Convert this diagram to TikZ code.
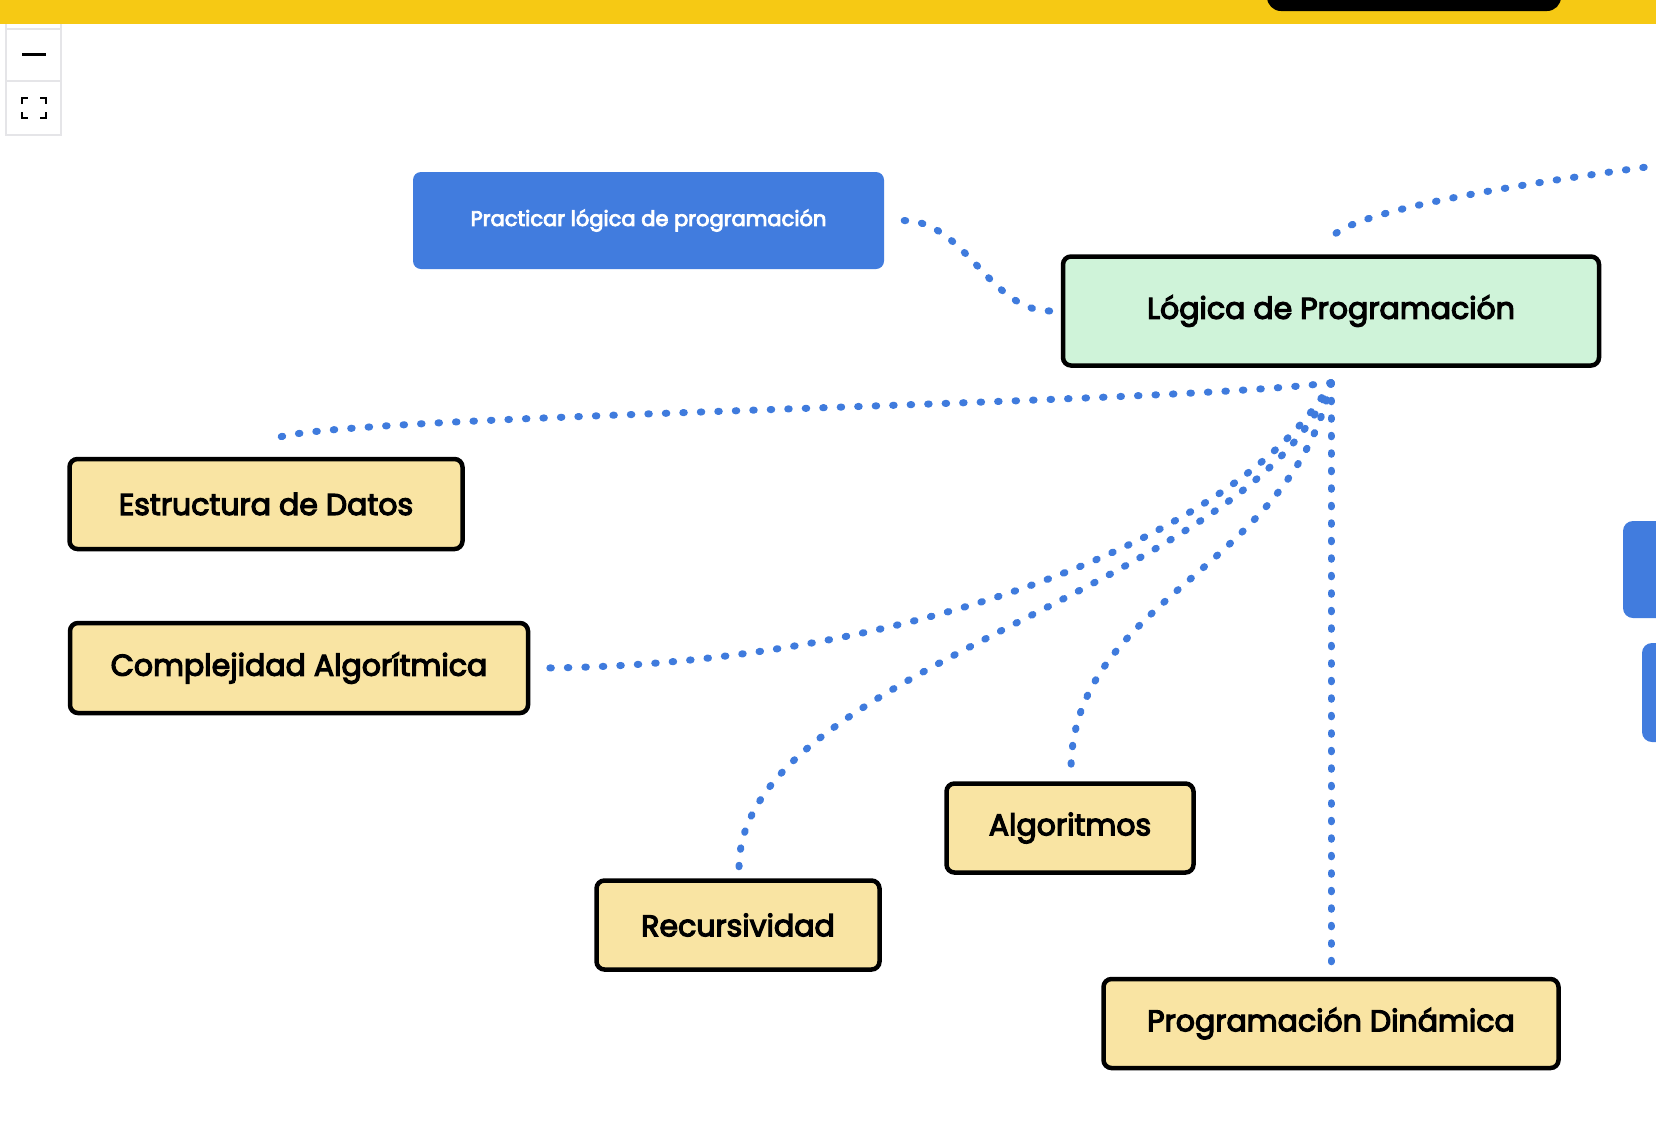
\documentclass[tikz,border=0pt]{standalone}
\usepackage{fontspec}
\setmainfont{Poppins}
\newfontfamily\labelfont{Poppins}[BoldFont=Poppins, BoldFeatures={FakeBold=4}]
\usetikzlibrary{calc}
\definecolor{banner}{RGB}{246,201,20}
\definecolor{linkblue}{RGB}{63,123,221}
\definecolor{boxblue}{RGB}{65,124,222}
\definecolor{topicfill}{RGB}{249,228,163}
\definecolor{rootfill}{RGB}{207,243,217}
\definecolor{panelgray}{RGB}{229,229,232}
\tikzset{
  topic/.style={draw=black, line width=4.5pt, rounded corners=8pt, fill=topicfill,
    inner sep=0pt, align=center, font=\labelfont\fontsize{30}{34}\selectfont\bfseries},
  rootbox/.style={topic, fill=rootfill},
  actionbox/.style={fill=boxblue, rounded corners=8pt, inner sep=0pt, text=white,
    align=center, font=\labelfont\fontsize{21}{25}\selectfont\bfseries},
  link/.style={draw=linkblue, line width=7pt, line cap=round, dash pattern=on 1.5pt off 16pt},
}
\begin{document}
\begin{tikzpicture}[x=1pt, y=-1pt]
\useasboundingbox (0,0) rectangle (1656,1144);
\fill[white] (0,0) rectangle (1656,1144);
% control panel
\draw[panelgray, fill=white, line width=1.5pt] (6,20) rectangle (61,135);
\draw[panelgray, line width=1.5pt] (6,29) -- (61,29);
\draw[panelgray, line width=1.5pt] (6,81) -- (61,81);
\draw[black, line width=3pt] (22,54) -- (46,54);
\draw[black, line width=2.5pt] (22,104) -- (22,98) -- (28,98);
\draw[black, line width=2.5pt] (40,98) -- (46,98) -- (46,104);
\draw[black, line width=2.5pt] (22,112) -- (22,118) -- (28,118);
\draw[black, line width=2.5pt] (40,118) -- (46,118) -- (46,112);
% banner
\fill[banner] (0,-5) rectangle (1656,24);
\fill[black, rounded corners=14pt] (1267,-40) rectangle (1561,11);
% partial boxes at right edge
\fill[boxblue, rounded corners=10pt] (1623,521) rectangle (1700,618);
\fill[boxblue, rounded corners=10pt] (1642,643) rectangle (1700,742);
% nodes
\node[actionbox, minimum width=471pt, minimum height=97pt] (blue) at (648.5,220.5) {Practicar lógica de programación};
\node[rootbox, minimum width=536pt, minimum height=109pt] (root) at (1331,311) {Lógica de Programación};
\node[topic, minimum width=393pt, minimum height=90pt] (estr) at (266,504) {Estructura de Datos};
\node[topic, minimum width=458pt, minimum height=90pt] (compl) at (299,668) {Complejidad Algorítmica};
\node[topic, minimum width=247pt, minimum height=89pt] (algo) at (1070,828) {Algoritmos};
\node[topic, minimum width=283pt, minimum height=89pt] (recur) at (738,925) {Recursividad};
\node[topic, minimum width=455pt, minimum height=89pt] (prog) at (1331,1023.5) {Programación Dinámica};
\coordinate (offright) at (1700,160);
% connectors
\draw[link] ($(blue.east)+(20,0)$) .. controls (965,221) and (990,311) .. ($(root.west)+(-11,0)$);
\draw[link] ($(root.north)+(5,-21)$) .. controls (1365,212) and (1480,188) .. (offright);
\draw[link] ($(root.south)+(0,15)$) .. controls (1150,405) and (320,415) .. ($(estr.north)+(9,-18)$);
\draw[link] ($(root.south)+(0,15)$) .. controls (1240,540) and (900,665) .. ($(compl.east)+(14,0)$);
\draw[link] ($(root.south)+(0,15)$) .. controls (1250,590) and (740,670) .. ($(recur.north)+(1,-11)$);
\draw[link] ($(root.south)+(0,15)$) .. controls (1290,570) and (1072,600) .. ($(algo.north)+(1,-12)$);
\draw[link] ($(root.south)+(0,15)$) -- ($(prog.north)+(0,-12)$);
\end{tikzpicture}
\end{document}
